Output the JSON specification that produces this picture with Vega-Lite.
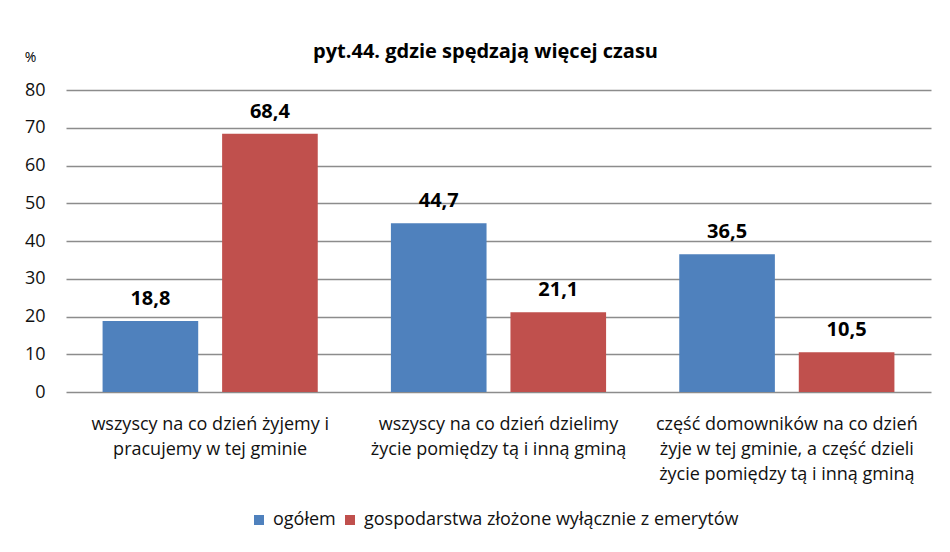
{
  "$schema": "https://vega.github.io/schema/vega-lite/v6.json",
  "autosize": {"type": "none"},
  "padding": {"left": 66, "top": 90, "right": 19, "bottom": 160},
  "width": 865,
  "height": 302,
  "background": "white",
  "title": {
    "text": "pyt.44. gdzie spędzają więcej czasu",
    "font": "Open Sans",
    "fontSize": 20,
    "fontWeight": "bold",
    "color": "#000000",
    "anchor": "middle",
    "dx": -13,
    "offset": -12
  },
  "data": {
    "values": [
      {"category": "wszyscy na co dzień żyjemy i|pracujemy w tej gminie", "series": "ogółem", "value": 18.8, "label": "18,8"},
      {"category": "wszyscy na co dzień żyjemy i|pracujemy w tej gminie", "series": "gospodarstwa złożone wyłącznie z emerytów", "value": 68.4, "label": "68,4"},
      {"category": "wszyscy na co dzień dzielimy|życie pomiędzy tą i inną gminą", "series": "ogółem", "value": 44.7, "label": "44,7"},
      {"category": "wszyscy na co dzień dzielimy|życie pomiędzy tą i inną gminą", "series": "gospodarstwa złożone wyłącznie z emerytów", "value": 21.1, "label": "21,1"},
      {"category": "część domowników na co dzień|żyje w tej gminie, a część dzieli|życie pomiędzy tą i inną gminą", "series": "ogółem", "value": 36.5, "label": "36,5"},
      {"category": "część domowników na co dzień|żyje w tej gminie, a część dzieli|życie pomiędzy tą i inną gminą", "series": "gospodarstwa złożone wyłącznie z emerytów", "value": 10.5, "label": "10,5"}
    ]
  },
  "encoding": {
    "x": {
      "field": "category",
      "type": "nominal",
      "sort": null,
      "scale": {"paddingInner": 0, "paddingOuter": 0},
      "axis": {
        "title": null,
        "labelAngle": 0,
        "labelExpr": "split(datum.label, '|')",
        "labelLineHeight": 25,
        "labelBaseline": "top",
        "labelPadding": 23,
        "labelFont": "Open Sans",
        "labelFontSize": 18,
        "labelColor": "#111111",
        "domain": false,
        "ticks": false,
        "labelLimit": 400
      }
    },
    "xOffset": {
      "field": "series",
      "type": "nominal",
      "sort": ["ogółem", "gospodarstwa złożone wyłącznie z emerytów"],
      "scale": {"paddingInner": 0.2, "paddingOuter": 0.306}
    },
    "y": {
      "field": "value",
      "type": "quantitative",
      "scale": {"domain": [0, 80], "nice": false},
      "axis": {
        "title": "%",
        "titleAngle": 0,
        "titleX": -36,
        "titleY": -33,
        "titleFont": "Open Sans",
        "titleFontSize": 14,
        "titleFontWeight": "normal",
        "titleAlign": "center",
        "titleBaseline": "middle",
        "values": [0, 10, 20, 30, 40, 50, 60, 70, 80],
        "labelFont": "Open Sans",
        "labelFontSize": 18,
        "labelColor": "#111111",
        "labelPadding": 21,
        "domain": false,
        "ticks": false,
        "grid": true,
        "gridColor": "#8c8c8c",
        "gridWidth": 1.5
      }
    }
  },
  "layer": [
    {
      "mark": {"type": "bar"},
      "encoding": {
        "color": {
          "field": "series",
          "type": "nominal",
          "sort": ["ogółem", "gospodarstwa złożone wyłącznie z emerytów"],
          "scale": {"range": ["#4F81BD", "#C0504D"]},
          "legend": {
            "title": null,
            "orient": "none",
            "direction": "horizontal",
            "legendX": 184,
            "legendY": 421,
            "symbolType": "square",
            "symbolSize": 100,
            "symbolStrokeWidth": 0,
            "labelFont": "Open Sans",
            "labelFontSize": 18,
            "labelColor": "#111111",
            "labelOffset": 5,
            "columnPadding": 5,
            "labelLimit": 500
          }
        }
      }
    },
    {
      "mark": {"type": "text", "font": "Open Sans", "fontSize": 20, "fontWeight": "bold", "baseline": "alphabetic", "dy": -16, "color": "#000000"},
      "encoding": {
        "text": {"field": "label"}
      }
    }
  ],
  "config": {
    "view": {"stroke": null}
  }
}
